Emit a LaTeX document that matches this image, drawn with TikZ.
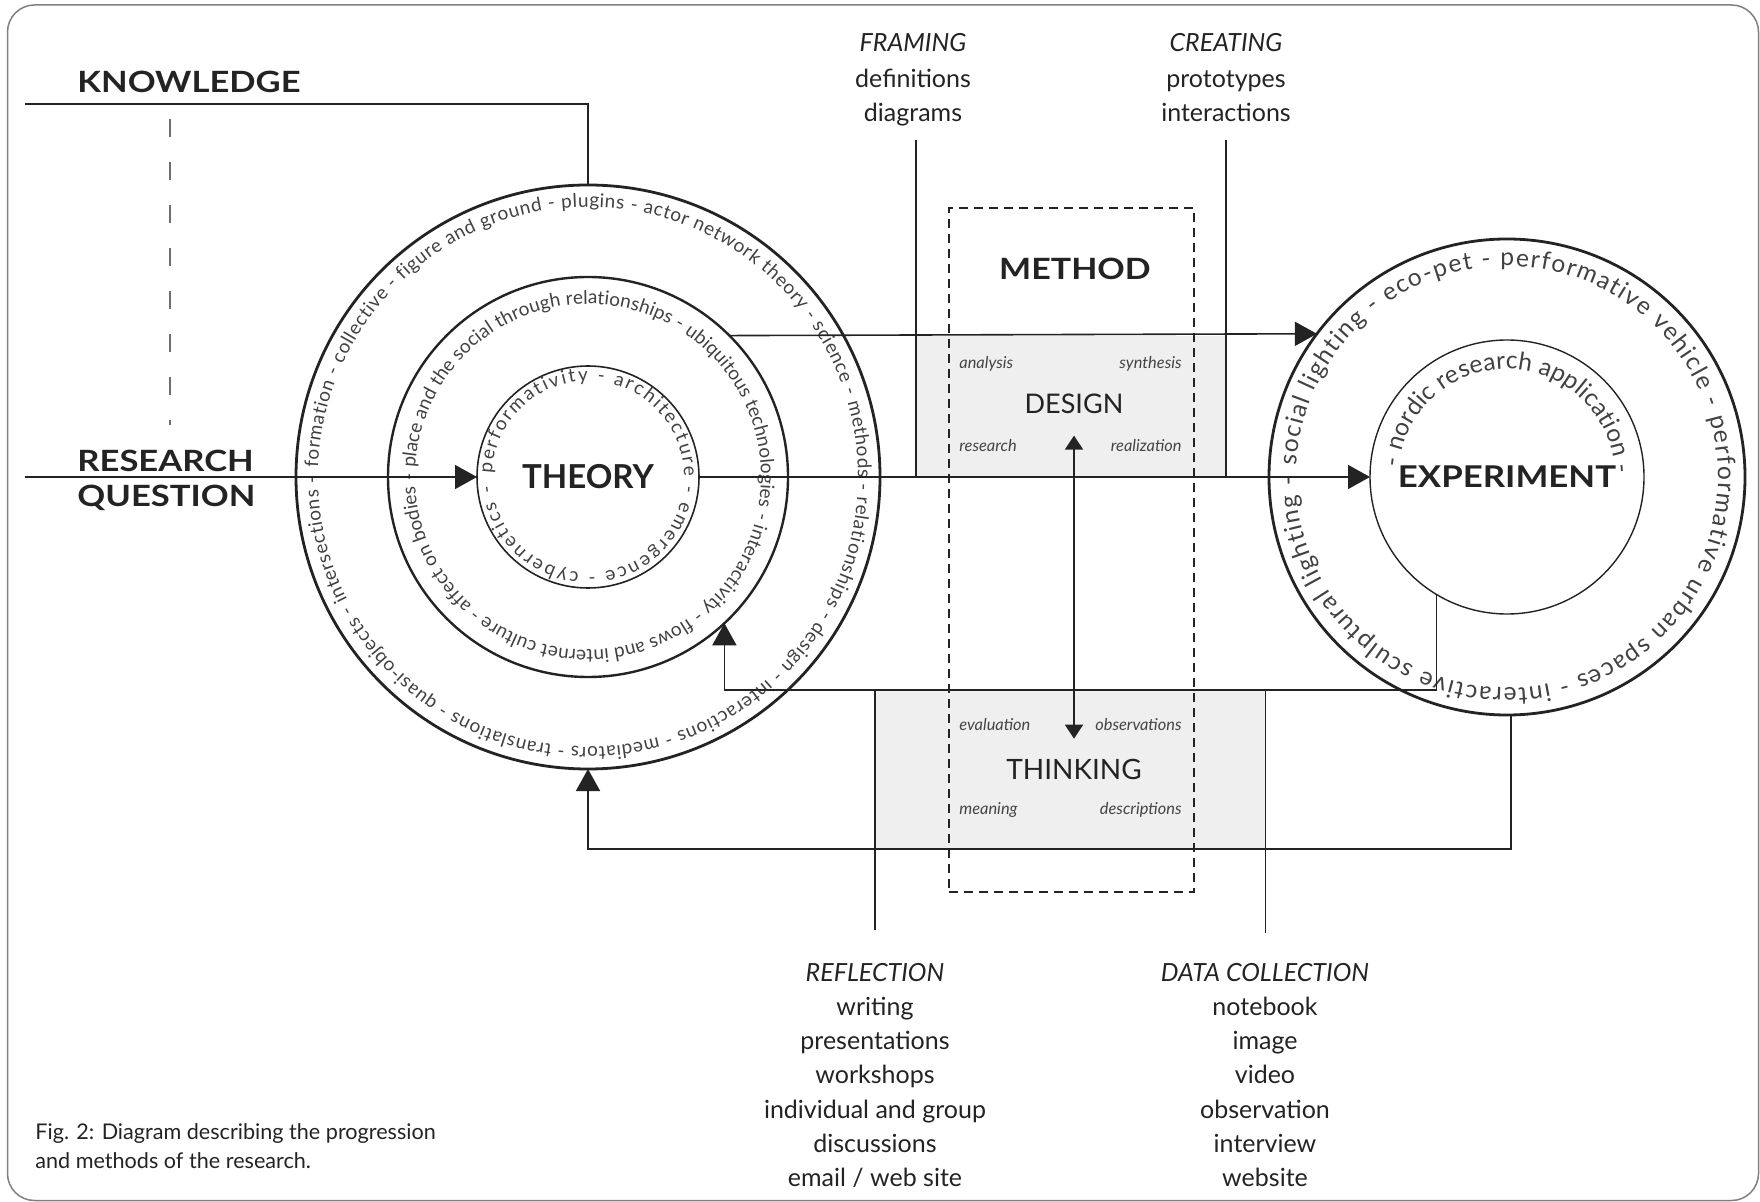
\documentclass[tikz,border=0pt]{standalone}
\usepackage{fontspec}
\setmainfont{Lato}
\usetikzlibrary{arrows.meta,decorations.text}

\definecolor{ink}{HTML}{232323}
\definecolor{ringgray}{HTML}{414141}
\definecolor{boxfill}{HTML}{EFEFEF}
\definecolor{framegray}{HTML}{808080}
\definecolor{dashgray}{HTML}{6E6E6E}

% font helpers (sizes in pt)
\newcommand{\fsz}[1]{\fontsize{#1}{#1}\selectfont}
\newcommand{\theoryring}{\fsz{9.5pt}\color{ringgray}}
\newcommand{\expring}{\fsz{12.3pt}\color{ringgray}}
\newcommand{\widecaps}[1]{\scalebox{1.18}[1]{#1}}

\begin{document}
\begin{tikzpicture}[x=0.5pt, y=0.5pt,
  link/.style={draw=ink, line width=0.8pt},
  tip/.style={-{Triangle[length=11pt,width=12pt]}},
  twotip/.style={{Triangle[length=7pt,width=9pt]}-{Triangle[length=7pt,width=9pt]}},
  ring/.style={circle, draw=ink, inner sep=0pt, outer sep=0pt, text=ink},
  headlbl/.style={font=\bfseries\fsz{14.65pt}, text=ink, inner sep=0pt},
  lbl/.style={font=\fsz{12.5pt}, text=ink, inner sep=0pt, anchor=base},
  itlbl/.style={font=\itshape\fsz{12.5pt}, text=ink, inner sep=0pt, anchor=base},
  minilbl/.style={font=\itshape\fsz{8.2pt}, text=ink!85, inner sep=0pt},
  caplbl/.style={font=\fsz{10.8pt}, text=ink, inner sep=0pt, anchor=base west},
  shade/.style={fill=boxfill, draw=none, inner sep=0pt, outer sep=0pt, anchor=north west},
  ringtext/.style={decorate, decoration={text along path, text align={fit to path}, text={#1}}},
]
\useasboundingbox (0,0) rectangle (1760,-1202);
\draw[framegray, line width=0.75pt, rounded corners=13.5pt] (7.5,-5) rectangle (1758.5,-1200.5);

% shaded bands of the method column
\node[shade, minimum width=155pt, minimum height=71pt] (designbox) at (916,-336) {};
\node[shade, minimum width=195pt, minimum height=79.5pt] (thinkbox) at (875,-690) {};

% vertical leaders to the activity lists
\coordinate (framingfoot) at (916,-140);
\coordinate (creatingfoot) at (1226,-140);
\coordinate (reflectionhead) at (875,-930);
\coordinate (datahead) at (1265,-933);
\draw[link, line width=0.7pt] (framingfoot) -- (designbox.south west);
\draw[link, line width=0.6pt] (creatingfoot) -- (designbox.south east);
\draw[link, line width=0.7pt] (thinkbox.north west) -- (reflectionhead);
\draw[link, line width=0.5pt] (thinkbox.north east) -- (datahead);

% dashed method frame
\node[draw=ink, line width=0.8pt, dash pattern=on 4.5pt off 3pt, minimum width=122.5pt,
      minimum height=342pt, inner sep=0pt, outer sep=0pt, anchor=north west] (methodbox) at (949,-208) {};

% theory rings
\node[ring, line width=1.4pt, minimum size=292pt] (tout) at (588,-477) {};
\node[ring, line width=1.2pt, minimum size=200pt] (tmid) at (588,-477) {};
\node[ring, line width=0.8pt, minimum size=111pt, font=\bfseries\fsz{16.5pt}] (tin) at (588,-477) {THEORY};

% experiment rings
\node[ring, line width=1.4pt, minimum size=238pt] (eout) at (1507,-477) {};
\node[ring, line width=0.7pt, minimum size=137pt, font=\bfseries\fsz{15pt}] (ein) at (1507,-477) {\scalebox{1.16}[1]{EXPERIMENT}};

% words running round the rings
\path[ringtext={|\theoryring|formation - collective - figure and ground - plugins - actor network theory - science - methods - relationships - design - interactions - mediators - translations - quasi-objects - intersections -}]
  (tout.center) ++(178:270) arc[start angle=178, end angle=-180, radius=270];
\path[ringtext={|\theoryring|place and the social through relationships - ubiquitous technologies - interactivity - flows and internet culture - affect on bodies -}]
  (tmid.center) ++(177:173) arc[start angle=177, end angle=-181, radius=173];
\path[ringtext={|\theoryring|performativity - architecture - emergence - cybernetics -}]
  (tin.center) ++(178:96) arc[start angle=178, end angle=-175, radius=96];
\path[ringtext={|\expring|social lighting - eco-pet - performative vehicle - performative urban spaces - interactive sculptural lighting -}]
  (eout.center) ++(177:211) arc[start angle=177, end angle=-180, radius=211];
\path[ringtext={|\expring|- nordic research application -}]
  (ein.center) ++(175:108) arc[start angle=175, end angle=2, radius=108];

% knowledge and research question
\node[headlbl, anchor=base west] (knowledge) at (77,-92.7) {\widecaps{KNOWLEDGE}};
\node[headlbl, anchor=base west] (research) at (77,-472) {\widecaps{RESEARCH}};
\node[headlbl, anchor=base west] (question) at (77,-507) {\widecaps{QUESTION}};
\coordinate (kstart) at (25,-104);
\coordinate (rqstart) at (25,-477);
\coordinate (kqtop) at (170,-119);
\coordinate (kqbottom) at (170,-425);
\draw[link] (kstart) -| (tout.north);
\draw[dashgray, line width=0.6pt, dash pattern=on 9pt off 12.5pt] (kqtop) -- (kqbottom);
\draw[link, tip] (rqstart) -- (tin.west);

% flows between theory and experiment
\coordinate (midrail) at (0,-690);
\coordinate (lowrail) at (0,-849);
\draw[link, tip] (tin.east) -- (ein.west);
\draw[link, tip] (tmid.45) -- (eout.143.4);
\draw[link, tip] (ein.-121) |- (tmid.-47 |- midrail) -- (tmid.-47);
\draw[link, tip] (eout.-89) |- (tout.south |- lowrail) -- (tout.south);

% method column
\node[headlbl] (method) at (1075,-269) {\scalebox{1.16}[1]{METHOD}};
\node[font=\fsz{13.5pt}, text=ink, inner sep=0pt] (design) at (1074,-403.5) {DESIGN};
\node[font=\fsz{14pt}, text=ink, inner sep=0pt] (thinking) at (1074,-769.5) {THINKING};
\node[minilbl, anchor=base west] (analysis) at (959,-369) {analysis};
\node[minilbl, anchor=base east] (synthesis) at (1182,-369) {synthesis};
\node[minilbl, anchor=base west] (researchit) at (959,-452) {research};
\node[minilbl, anchor=base east] (realization) at (1182,-452) {realization};
\node[minilbl, anchor=base west] (evaluation) at (959,-730) {evaluation};
\node[minilbl, anchor=base east] (observations) at (1182,-730) {observations};
\node[minilbl, anchor=base west] (meaning) at (959,-814) {meaning};
\node[minilbl, anchor=base east] (descriptions) at (1182,-814) {descriptions};
\coordinate (loopup) at (1074,-435.6);
\coordinate (loopdown) at (1074,-738.7);
\draw[link, twotip] (loopup) -- (loopdown);

% activity lists
\node[itlbl] (framing) at (913,-52) {FRAMING};
\node[lbl] (definitions) at (913,-88) {definitions};
\node[lbl] (diagrams) at (913,-121.5) {diagrams};
\node[itlbl] (creating) at (1226,-52) {CREATING};
\node[lbl] (prototypes) at (1226,-88) {prototypes};
\node[lbl] (interactions) at (1226,-121.5) {interactions};

\node[itlbl] (reflection) at (875,-981) {REFLECTION};
\foreach \w [count=\i] in {writing, presentations, workshops, individual and group, discussions, email / web site}
  \node[lbl] (refl-\i) at (875,-981-34.3*\i) {\w};
\node[itlbl] (datacoll) at (1265,-981) {DATA COLLECTION};
\foreach \w [count=\i] in {notebook, image, video, observation, interview, website}
  \node[lbl] (data-\i) at (1265,-981-34.3*\i) {\w};

% caption
\node[caplbl] (cap1) at (35,-1139.3) {Fig. 2: Diagram describing the progression};
\node[caplbl] (cap2) at (35,-1168.3) {and methods of the research.};
\end{tikzpicture}
\end{document}
